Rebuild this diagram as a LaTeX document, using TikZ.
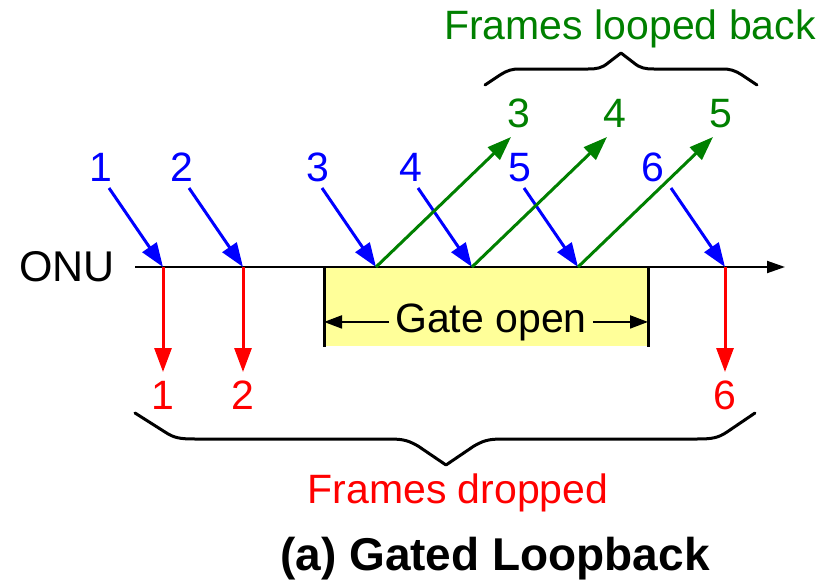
\documentclass[tikz,border=0pt]{standalone}
\usepackage{fontspec}
\setmainfont{Liberation Sans}
\usetikzlibrary{arrows.meta}
\definecolor{loopgreen}{RGB}{0,128,0}
\definecolor{gateyellow}{RGB}{255,255,153}

\begin{document}
\begin{tikzpicture}[x=1pt, y=-1pt, line join=round, font=\fontsize{41}{49}\selectfont,
	inarrow/.style={blue, line width=3pt, -{Triangle[length=24pt,width=17pt]}},
	looparrow/.style={loopgreen, line width=3pt, -{Triangle[length=24pt,width=17pt]}},
	droparrow/.style={red, line width=3pt, -{Triangle[length=24pt,width=17pt]}},
	lbl/.style={anchor=base, inner sep=0pt},
	brace/.style={line width=3pt, line cap=round}]
	\useasboundingbox (0,0) rectangle (831,581);
	% gate window under the time line
	\coordinate (gl) at (324,267);
	\coordinate (gr) at (648,267);
	\fill[gateyellow] (gl) rectangle ([shift={(0,79)}]gr);
	\draw[line width=3pt] (gl) -- ++(0,80) (gr) -- ++(0,80);
	\node[anchor=base, inner xsep=6pt] (gate) at (491,332) {Gate open};
	\draw[line width=2pt, -{Triangle[length=18pt,width=13pt]}] (gate.west) -- (gate.west -| gl);
	\draw[line width=2pt, -{Triangle[length=18pt,width=13pt]}] (gate.east) -- (gate.east -| gr);
	% time line
	\node[lbl, font=\fontsize{43}{50}\selectfont] (onu) at (67,281) {ONU};
	\coordinate (t0) at (135,267);
	\coordinate (t1) at (785,267);
	\draw[line width=2pt, -{Triangle[length=18pt,width=12pt]}] (t0) -- (t1);
	% arriving frames
	\foreach \n/\x/\lx in {1/163/101, 2/243/182, 3/376/318, 4/472/411, 5/578/520, 6/725/653}{
		\coordinate (a\n) at (\x,267);
		\draw[inarrow] (a\n) ++(-54,-79) coordinate (s\n) -- (a\n);
		\node[lbl, blue] (in\n) at (\lx,181) {\n};
	}
	% frames sent back
	\foreach \n in {3,4,5}{
		\draw[looparrow] (a\n) -- ++(135,-130) coordinate (o\n);
		\node[lbl, loopgreen] (out\n) at ([shift={(8,-10)}]o\n) {\n};
	}
	% frames thrown away
	\foreach \n in {1,2,6}{
		\draw[droparrow] (a\n) -- ++(0,105) coordinate (d\n);
		\node[lbl, red] (drop\n) at ([shift={(0,37)}]d\n) {\n};
	}
	% braces
	\draw[brace] (485,85) -- (500,75) .. controls (508,70) and (512,69) .. (520,69) -- (588,69)
		.. controls (597,69) and (602,68) .. (608,63) -- (621,53) -- (634,63)
		.. controls (640,68) and (645,69) .. (654,69) -- (722,69)
		.. controls (730,69) and (734,70) .. (742,75) -- (757,85);
	\draw[brace] (135,413) -- (165,432) .. controls (174,438) and (180,439) .. (195,439) -- (385,439)
		.. controls (400,439) and (406,439) .. (418,446) -- (446,465) -- (474,446)
		.. controls (486,439) and (492,439) .. (507,439) -- (697,439)
		.. controls (712,439) and (718,438) .. (727,432) -- (755,413);
	\node[lbl, loopgreen] (loopedtxt) at (630,39) {Frames looped back};
	\node[lbl, red] (droppedtxt) at (458,503) {Frames dropped};
	\node[lbl, font=\fontsize{46}{55}\selectfont\bfseries] (title) at (495,570) {(a) Gated Loopback};
\end{tikzpicture}
\end{document}
